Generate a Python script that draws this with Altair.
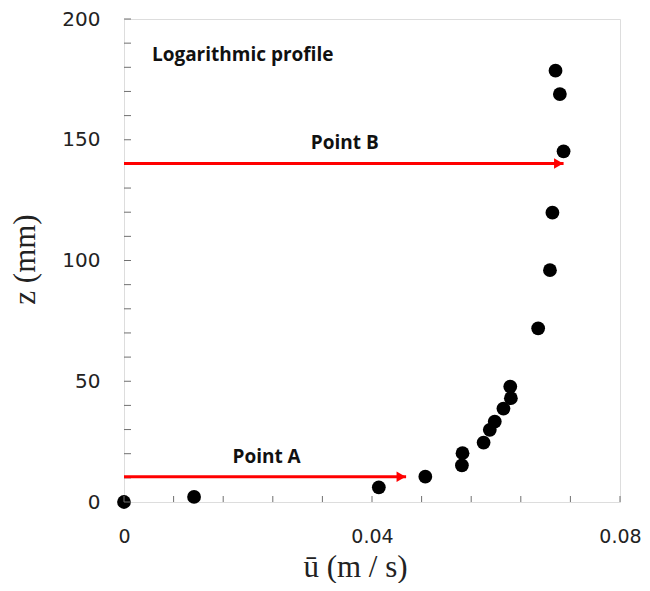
import altair as alt
import pandas as pd

# measured profile: mean velocity (m/s) vs height z (mm)
u_vals = [0.0, 0.0113, 0.0411, 0.0486, 0.0545, 0.0546, 0.0580, 0.0590, 0.0598,
          0.0612, 0.0624, 0.0623, 0.0668, 0.0687, 0.0691, 0.0709, 0.0703, 0.0696]
z_vals = [0.0, 2.1, 6.1, 10.5, 15.2, 20.2, 24.6, 29.9, 33.3,
          38.7, 43.0, 47.8, 71.9, 96.0, 119.8, 145.2, 168.9, 178.6]

# arrows (start u, end u, z)
arrow_names = ["A", "B"]
arrow_u0 = [0.0, 0.0]
arrow_u1 = [0.0455, 0.0709]
arrow_z = [10.5, 140.2]

# annotations
note_text = ["Point A", "Point B"]
note_u = [0.0230, 0.0356]
note_z = [16.1, 146.0]
title_text = ["Logarithmic profile"]
title_u = [0.0045]
title_z = [182.7]

x_ticks = [i * 0.008 for i in range(11)]
y_ticks = list(range(0, 201, 10))
x_labels = [0, 0.04, 0.08]
y_labels = [0, 50, 100, 150, 200]

W, H = 496, 483
FRAME = "#707070"

pts = pd.DataFrame({"u": u_vals, "z": z_vals})
arrows = pd.DataFrame({"name": arrow_names, "u0": arrow_u0, "u1": arrow_u1, "z": arrow_z})
notes = pd.DataFrame({"t": note_text, "u": note_u, "z": note_z})
ttl = pd.DataFrame({"t": title_text, "u": title_u, "z": title_z})
xt = pd.DataFrame({"v": x_ticks})
yt = pd.DataFrame({"v": y_ticks})

xscale = alt.Scale(domain=[0, 0.08], nice=False, zero=False)
yscale = alt.Scale(domain=[0, 200], nice=False, zero=False)

xaxis = alt.Axis(values=x_labels, ticks=False, grid=False, domain=False,
                 labelFlush=False,
                 labelExpr="datum.value == 0 ? '0' : format(datum.value, '.2f')",
                 labelFont="DejaVu Sans", labelFontSize=19, labelColor="#222222",
                 labelPadding=25, title="ū (m / s)", titleFont="Liberation Serif",
                 titleFontSize=31, titleFontWeight="normal", titleColor="#222222",
                 titleX=231, titleY=74, titleBaseline="alphabetic")
yaxis = alt.Axis(values=y_labels, ticks=False, grid=False, domain=False,
                 labelFont="DejaVu Sans", labelFontSize=20, labelColor="#222222",
                 labelPadding=24, title="z (mm)", titleFont="Liberation Serif",
                 titleFontSize=31, titleFontWeight="normal", titleColor="#222222",
                 titleX=-83, titleY=240)

base_x = alt.X("u:Q", scale=xscale, axis=xaxis)
base_y = alt.Y("z:Q", scale=yscale, axis=yaxis)

points = alt.Chart(pts).mark_point(filled=True, shape="circle", size=190,
                                   color="black", opacity=1).encode(x=base_x, y=base_y)

xtick_layer = alt.Chart(xt).mark_rule(color=FRAME, strokeWidth=1).encode(
    x=alt.X("v:Q", scale=xscale), y=alt.value(H), y2=alt.value(H - 6))
ytick_layer = alt.Chart(yt).mark_rule(color=FRAME, strokeWidth=1).encode(
    y=alt.Y("v:Q", scale=yscale), x=alt.value(0), x2=alt.value(7))

arrow_lines = alt.Chart(arrows).mark_rule(color="#ff0000", strokeWidth=3).encode(
    x=alt.X("u0:Q", scale=xscale), x2="u1:Q", y=alt.Y("z:Q", scale=yscale))
arrow_heads = alt.Chart(arrows).mark_point(shape="triangle-right", filled=True,
                                           color="#ff0000", opacity=1, size=110,
                                           xOffset=-5).encode(
    x=alt.X("u1:Q", scale=xscale), y=alt.Y("z:Q", scale=yscale))

note_layer = alt.Chart(notes).mark_text(font="Open Sans", fontWeight="bold", fontSize=19,
                                        color="#111111", align="center",
                                        baseline="alphabetic").encode(
    x=alt.X("u:Q", scale=xscale), y=alt.Y("z:Q", scale=yscale), text="t:N")
title_layer = alt.Chart(ttl).mark_text(font="Open Sans", fontWeight="bold", fontSize=19,
                                       color="#111111", align="left",
                                       baseline="alphabetic").encode(
    x=alt.X("u:Q", scale=xscale), y=alt.Y("z:Q", scale=yscale), text="t:N")

chart = alt.layer(
    points, xtick_layer, ytick_layer, arrow_lines, arrow_heads, note_layer, title_layer
).properties(
    width=W, height=H,
    autosize=alt.AutoSizeParams(type="none"),
    padding={"left": 116, "top": 11, "right": 22, "bottom": 81},
).configure_view(stroke=FRAME, strokeWidth=1.5).configure(background="white")

chart.save("out.html", embed_options={"renderer": "svg", "actions": False})
